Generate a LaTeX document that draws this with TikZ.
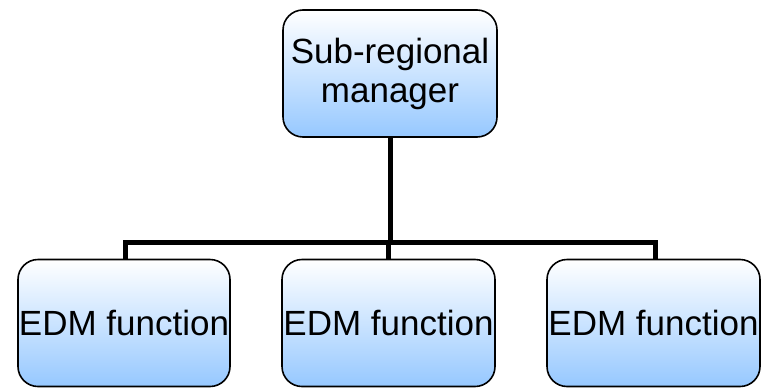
\documentclass[tikz,border=0pt]{standalone}
\usepackage{fontspec}
\setmainfont{Liberation Sans}
\definecolor{boxblue}{RGB}{150,200,255}
\begin{document}
\begin{tikzpicture}[x=1pt,y=-1pt,
  orgbox/.style={draw=black, line width=1.6pt, rounded corners=20pt,
    top color=white, bottom color=boxblue, align=center,
    font=\fontsize{35}{39}\selectfont, inner sep=0pt},
  bus/.style={draw=black, line width=5pt, line join=miter}]
  \useasboundingbox (0,0) rectangle (770,388);
  % manager box
  \node[orgbox, minimum width=214pt, minimum height=127pt] (mgr) at (390,73.5) {Sub-regional\\manager};
  % function boxes
  \node[orgbox, minimum width=212pt, minimum height=127pt] (f1) at (124,323) {EDM function};
  \node[orgbox, minimum width=213pt, minimum height=127pt] (f2) at (388.5,323) {EDM function};
  \node[orgbox, minimum width=213pt, minimum height=127pt] (f3) at (653.5,323) {EDM function};
  % connectors
  \coordinate (busline) at (390,242);
  \draw[bus] ([yshift=0.8pt]mgr.south) -- (mgr.south |- busline);
  \draw[bus] ([yshift=-0.8pt]f1.north -| 125,0) -- (125,242) -- (655,242) -- ([yshift=-0.8pt]f3.north -| 655,0);
  \draw[bus] ([yshift=-0.8pt]f2.north) -- (f2.north |- busline);
\end{tikzpicture}
\end{document}
